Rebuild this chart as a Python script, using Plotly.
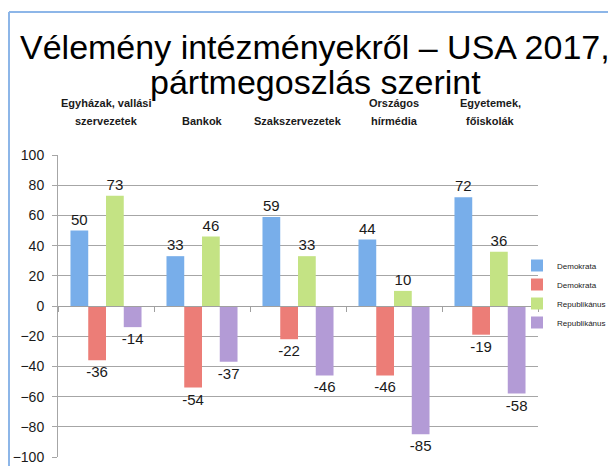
import plotly.graph_objects as go

categories = ["Egyházak, vallási<br>szervezetek", "Bankok", "Szakszervezetek",
              "Országos<br>hírmédia", "Egyetemek,<br>főiskolák"]
dem_pos = [50, 33, 59, 44, 72]
dem_neg = [-36, -54, -22, -46, -19]
rep_pos = [73, 46, 33, 10, 36]
rep_neg = [-14, -37, -46, -85, -58]
series_names = ["Demokrata", "Demokrata", "Republikánus", "Republikánus"]
colors = ["#78aeea", "#ec7d77", "#c4e384", "#b39bd6"]
y_ticks = [-100, -80, -60, -40, -20, 0, 20, 40, 60, 80, 100]
title_lines = ["Vélemény intézményekről – USA 2017,", "pártmegoszlás szerint"]

FONT = "Liberation Sans, Arial, sans-serif"

# The page body has an 8px margin, so the figure starts at (8, 8) in the window.
OFF = 8
W, H = 616 - OFF, 466 - OFF
# plot area in window pixels: x 58..538, y 155..457
PL, PR, PT, PB = 58, 538, 155, 457


def py(p):
    return (PB - p) / float(PB - PT)


def px(p):
    return (p - PL) / float(PR - PL)


fig = go.Figure()
x_idx = list(range(len(categories)))
for vals, name, col in zip([dem_pos, dem_neg, rep_pos, rep_neg], series_names, colors):
    fig.add_trace(go.Bar(
        x=x_idx, y=vals, name=name, marker=dict(color=col, line=dict(width=0)),
        text=[str(v) for v in vals], textposition="outside", cliponaxis=False,
        constraintext="none",
        textfont=dict(family=FONT, size=15, color="#1a1a1a"),
    ))

annotations = []
for i, cat in enumerate(categories):
    lines = cat.split("<br>")
    n = len(lines)
    for j, ln in enumerate(lines):
        center = 121 - (n - 1 - j) * 18
        annotations.append(dict(
            x=i, xref="x", y=py(center), yref="paper", yanchor="middle", xanchor="center",
            text="<b>" + ln + "</b>", showarrow=False,
            font=dict(family=FONT, size=11, color="#1a1a1a"),
        ))
for ln, center in zip(title_lines, [47, 82]):
    annotations.append(dict(
        x=px(315), xref="paper", y=py(center), yref="paper", yanchor="middle", xanchor="center",
        text=ln, showarrow=False,
        font=dict(family=FONT, size=34, color="#000000"),
    ))

fig.update_layout(
    width=W, height=H,
    margin=dict(l=PL - OFF, r=W - (PR - OFF), t=PT - OFF, b=H - (PB - OFF), autoexpand=False),
    paper_bgcolor="white", plot_bgcolor="white",
    barmode="group", bargap=0.26, bargroupgap=0,
    showlegend=True,
    legend=dict(
        x=px(517), xanchor="left", y=py(251), yanchor="top",
        font=dict(family=FONT, size=8, color="#1a1a1a"),
        bgcolor="rgba(0,0,0,0)", itemwidth=30, tracegroupgap=0,
    ),
    xaxis=dict(
        type="linear", range=[-0.5, len(categories) - 0.5],
        anchor="free", position=0.5, automargin=False,
        showline=True, linecolor="#a0a0a0", linewidth=1,
        tickvals=[i - 0.5 for i in range(len(categories) + 1)],
        ticks="outside", ticklen=5, tickcolor="#a0a0a0",
        showticklabels=False, showgrid=False, zeroline=False,
    ),
    yaxis=dict(
        range=[-100, 100], tickvals=y_ticks, automargin=False,
        showgrid=True, gridcolor="#a6a6a6", gridwidth=1,
        showline=True, linecolor="#a6a6a6", linewidth=1,
        ticks="outside", ticklen=5, tickcolor="#a6a6a6",
        zeroline=False, ticklabelstandoff=5,
        tickfont=dict(family=FONT, size=14, color="#1a1a1a"),
    ),
    annotations=annotations,
    shapes=[
        dict(type="line", xref="paper", yref="paper", x0=px(9), x1=px(9), y0=py(470), y1=py(12),
             line=dict(color="#8db6e8", width=2)),
        dict(type="line", xref="paper", yref="paper", x0=px(9), x1=px(620), y0=py(12), y1=py(12),
             line=dict(color="#8db6e8", width=2)),
    ],
)

fig.write_html("out.html")
